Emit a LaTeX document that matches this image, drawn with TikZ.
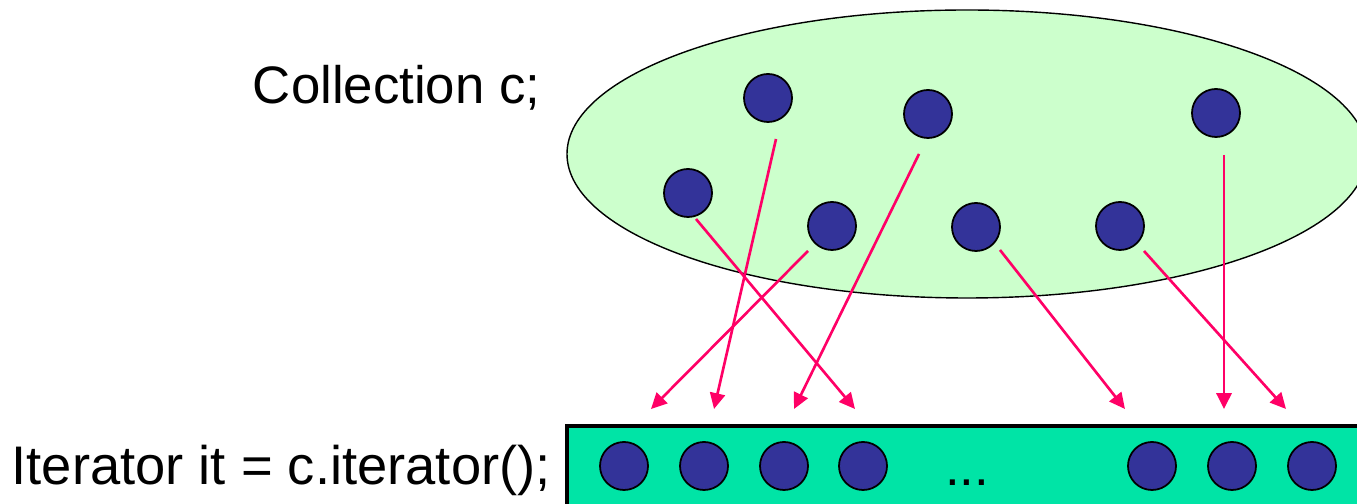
\documentclass[tikz,border=0pt]{standalone}
\usepackage{fontspec}
\setmainfont{Liberation Sans}
\usetikzlibrary{arrows.meta}
\definecolor{setgreen}{RGB}{204,255,204}
\definecolor{itergreen}{RGB}{0,228,166}
\definecolor{elemblue}{RGB}{51,51,153}
\definecolor{linkpink}{RGB}{255,0,102}
\tikzset{
  elem/.style={circle, draw=black, line width=0.5pt, fill=elemblue,
    minimum size=0.48cm, inner sep=0pt},
  link/.style={linkpink, line width=0.75pt,
    -{Triangle[length=4.5pt,width=4.3pt]}},
  label/.style={inner sep=0pt, font=\fontsize{15}{18}\selectfont},
}
\begin{document}
\begin{tikzpicture}[x=0.01cm, y=-0.01cm, font=\fontsize{15}{18}\selectfont]
    \useasboundingbox (0,0) rectangle (1357,504);

    % ---- Coleccion (arriba) ----
    \draw[fill=setgreen, line width=0.4pt] (967,154) ellipse [x radius=400, y radius=144];
    \node[label, anchor=base east] (coll) at (541,104) {Collection c;};

    \node[elem] (e1) at (768,98) {};
    \node[elem] (e2) at (928,114) {};
    \node[elem] (e3) at (1216,113) {};
    \node[elem] (e4) at (688,193) {};
    \node[elem] (e5) at (832,226) {};
    \node[elem] (e6) at (976,227) {};
    \node[elem] (e7) at (1120,226) {};

    % ---- Iterador (abajo) ----
    \draw[fill=itergreen, line width=1pt] (567,426) rectangle (1420,560);
    \node[label, anchor=base west, font=\fontsize{15.45}{18}\selectfont] (iter) at (11,485)
        {Iterator it = c.iterator();};
    \foreach \x [count=\i] in {624,704,784,863,1152,1232,1312}
        \node[elem] (b\i) at (\x,466) {};
    \node[anchor=base] (dots) at (967,486) {...};

    % inicio y fin de cada flecha
    \coordinate (s1) at (776,139);
    \coordinate (s2) at (919,154);
    \coordinate (s3) at (1224,155);
    \coordinate (s4) at (696,219);
    \coordinate (s5) at (808,251);
    \coordinate (s6) at (1000,250);
    \coordinate (s7) at (1144,251);
    \coordinate (t1) at (651,409);
    \coordinate (t2) at (714,409);
    \coordinate (t3) at (794,409);
    \coordinate (t4) at (855,409);
    \coordinate (t5) at (1125,409);
    \coordinate (t6) at (1224,409);
    \coordinate (t7) at (1286,409);

    % ---- Flechas ----
    \draw[link] (s5) -- (t1);
    \draw[link] (s1) -- (t2);
    \draw[link] (s2) -- (t3);
    \draw[link] (s4) -- (t4);
    \draw[link] (s6) -- (t5);
    \draw[link] (s3) -- (t6);
    \draw[link] (s7) -- (t7);
\end{tikzpicture}
\end{document}
